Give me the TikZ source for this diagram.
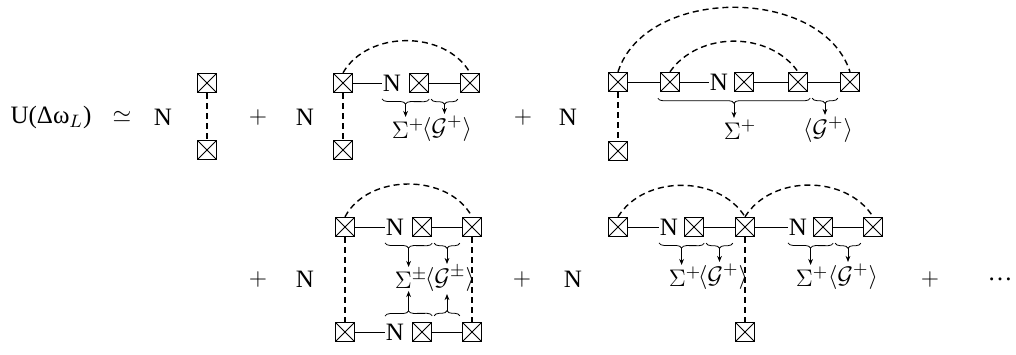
\documentclass[tikz,border=0pt]{standalone}
\usepackage{fontspec}
\setmainfont{Liberation Serif}
\usepackage{tikz}
\usetikzlibrary{positioning,arrows.meta,calc,decorations.pathreplacing}

\begin{document}
\begin{tikzpicture}[
  x=0.5pt, y=0.5pt,
  every node/.style={font=\fontsize{12.5}{15}\selectfont},
  xbox/.style={draw, line width=0.7pt, minimum size=9.5pt, inner sep=0pt,
               path picture={\draw[line width=0.45pt]
                 (path picture bounding box.north west) -- (path picture bounding box.south east)
                 (path picture bounding box.south west) -- (path picture bounding box.north east);}},
  nn/.style={minimum height=9.5pt, inner sep=0.3pt},
  lbl/.style={inner sep=1pt},
  link/.style={line width=0.45pt},
  loopdash/.style={line width=0.7pt, dash pattern=on 3pt off 2pt},
  ubrace/.style={decorate, decoration={brace, mirror, amplitude=2.5pt}, line width=0.4pt},
  obrace/.style={decorate, decoration={brace, amplitude=2.5pt}, line width=0.4pt},
  arrow/.style={-{Stealth[length=3pt, width=2.4pt]}, line width=0.4pt}
]
  \useasboundingbox (0,0) rectangle (1016,354);

  % first row
  \node (lhs) at (51,237) {U(Δω$_{L}$)};
  \node (sim) at (122,237) {$\simeq$};
  \node (n0)  at (163,237) {N};
  \node[xbox] (a1) at (207,271) {};
  \node[xbox] (a2) at (207,204) {};
  \draw[loopdash] (a1) -- (a2);

  \node (p1) at (258,237) {$+$};
  \node (n1) at (305,237) {N};
  \node[xbox] (b1) at (343,271) {};
  \node[nn]   (bN) at (392,271) {N};
  \node[xbox] (b2) at (419,271) {};
  \node[xbox] (b3) at (470,271) {};
  \node[xbox] (b4) at (343,204) {};
  \draw[link] (b1) -- (bN);
  \draw[link] (b2) -- (b3);
  \draw[loopdash] (b1) -- (b4);
  \draw[loopdash] (b1.north) to[out=60, in=120] (b3.north);
  \draw[ubrace] ($(bN.south west)+(0,-3pt)$) -- ($(b2.south east)+(0,-3pt)$)
    coordinate[midway, yshift=-2.5pt] (bt1);
  \draw[ubrace] ($(b2.south east)+(1pt,-3pt)$) -- ($(b3.south west)+(-1pt,-3pt)$)
    coordinate[midway, yshift=-2.5pt] (bt2);
  \node[lbl] (bs) at (408,225) {$\Sigma^{+}$};
  \node[lbl] (bg) at (447,225) {$\langle\mathcal{G}^{+}\rangle$};
  \draw[arrow] (bt1) -- (bt1 |- bs.north);
  \draw[arrow] (bt2) -- (bt2 |- bg.north);

  \node (p2) at (523,237) {$+$};
  \node (n2) at (568,237) {N};
  \node[xbox] (c1) at (618,272) {};
  \node[xbox] (c2) at (670,272) {};
  \node[nn]   (cN) at (719,272) {N};
  \node[xbox] (c3) at (744,272) {};
  \node[xbox] (c4) at (798,272) {};
  \node[xbox] (c5) at (850,272) {};
  \node[xbox] (c6) at (618,203) {};
  \draw[link] (c1) -- (c2);
  \draw[link] (c2) -- (cN);
  \draw[link] (c3) -- (c4);
  \draw[link] (c4) -- (c5);
  \draw[loopdash] (c1) -- (c6);
  \draw[loopdash] (c1.north) to[out=72, in=108] (c5.north);
  \draw[loopdash] (c2.north) to[out=55, in=125] (c4.north);
  \draw[ubrace] ($(c2.south west)+(-1pt,-3pt)$) -- ($(c4.south east)+(1pt,-3pt)$)
    coordinate[midway, yshift=-2.5pt] (ct1);
  \draw[ubrace] ($(c4.south east)+(2pt,-3pt)$) -- ($(c5.south west)+(-1pt,-3pt)$)
    coordinate[midway, yshift=-2.5pt] (ct2);
  \node[lbl] (cs) at (740,224) {$\Sigma^{+}$};
  \node[lbl] (cg) at (828,224) {$\langle\mathcal{G}^{+}\rangle$};
  \draw[arrow] (ct1) -- (ct1 |- cs.north);
  \draw[arrow] (ct2) -- (ct2 |- cg.north);

  % second row
  \node (p3) at (258,75) {$+$};
  \node (n3) at (305,75) {N};
  \node[xbox] (d1) at (345,127) {};
  \node[nn]   (dN) at (395,127) {N};
  \node[xbox] (d2) at (422,127) {};
  \node[xbox] (d3) at (472,127) {};
  \node[xbox] (e1) at (345,22) {};
  \node[nn]   (eN) at (395,22) {N};
  \node[xbox] (e2) at (422,22) {};
  \node[xbox] (e3) at (472,22) {};
  \draw[link] (d1) -- (dN);
  \draw[link] (d2) -- (d3);
  \draw[link] (e1) -- (eN);
  \draw[link] (e2) -- (e3);
  \draw[loopdash] (d1) -- (e1);
  \draw[loopdash] (d3) -- (e3);
  \draw[loopdash] (d1.north) to[out=62, in=118] (d3.north);
  \draw[ubrace] ($(dN.south west)+(0,-3pt)$) -- ($(d2.south east)+(0,-3pt)$)
    coordinate[midway, yshift=-2.5pt] (dt1);
  \draw[ubrace] ($(d2.south east)+(1pt,-3pt)$) -- ($(d3.south west)+(-1pt,-3pt)$)
    coordinate[midway, yshift=-2.5pt] (dt2);
  \draw[obrace] ($(eN.north west)+(0,3pt)$) -- ($(e2.north east)+(0,3pt)$)
    coordinate[midway, yshift=2.5pt] (et1);
  \draw[obrace] ($(e2.north east)+(1pt,3pt)$) -- ($(e3.north west)+(-1pt,3pt)$)
    coordinate[midway, yshift=2.5pt] (et2);
  \node[lbl] (ds) at (411,75) {$\Sigma^{\pm}$};
  \node[lbl] (dg) at (450,75) {$\langle\mathcal{G}^{\pm}\rangle$};
  \draw[arrow] (dt1) -- (dt1 |- ds.north);
  \draw[arrow] (dt2) -- (dt2 |- dg.north);
  \draw[arrow] (et1) -- (et1 |- ds.south);
  \draw[arrow] (et2) -- (et2 |- dg.south);

  \node (p4) at (522,75) {$+$};
  \node (n4) at (573,75) {N};
  \node[xbox] (f1) at (618,127) {};
  \node[nn]   (fN) at (669,127) {N};
  \node[xbox] (f2) at (694,127) {};
  \node[xbox] (f3) at (745,127) {};
  \node[nn]   (gN) at (798,127) {N};
  \node[xbox] (g2) at (823,127) {};
  \node[xbox] (g3) at (873,127) {};
  \node[xbox] (f4) at (745,22) {};
  \draw[link] (f1) -- (fN);
  \draw[link] (f2) -- (f3);
  \draw[link] (f3) -- (gN);
  \draw[link] (g2) -- (g3);
  \draw[loopdash] (f3) -- (f4);
  \draw[loopdash] (f1.north) to[out=58, in=122] (f3.north);
  \draw[loopdash] (f3.north) to[out=58, in=122] (g3.north);
  \draw[ubrace] ($(fN.south west)+(0,-3pt)$) -- ($(f2.south east)+(0,-3pt)$)
    coordinate[midway, yshift=-2.5pt] (ft1);
  \draw[ubrace] ($(f2.south east)+(1pt,-3pt)$) -- ($(f3.south west)+(-1pt,-3pt)$)
    coordinate[midway, yshift=-2.5pt] (ft2);
  \draw[ubrace] ($(gN.south west)+(0,-3pt)$) -- ($(g2.south east)+(0,-3pt)$)
    coordinate[midway, yshift=-2.5pt] (gt1);
  \draw[ubrace] ($(g2.south east)+(1pt,-3pt)$) -- ($(g3.south west)+(-1pt,-3pt)$)
    coordinate[midway, yshift=-2.5pt] (gt2);
  \node[lbl] (fs) at (685,77) {$\Sigma^{+}$};
  \node[lbl] (fg) at (723,77) {$\langle\mathcal{G}^{+}\rangle$};
  \node[lbl] (gs) at (812,77) {$\Sigma^{+}$};
  \node[lbl] (gg) at (853,77) {$\langle\mathcal{G}^{+}\rangle$};
  \draw[arrow] (ft1) -- (ft1 |- fs.north);
  \draw[arrow] (ft2) -- (ft2 |- fg.north);
  \draw[arrow] (gt1) -- (gt1 |- gs.north);
  \draw[arrow] (gt2) -- (gt2 |- gg.north);

  \node (p5) at (930,75) {$+$};
  \node (dots) at (1000,75) {\ldots};
\end{tikzpicture}
\end{document}
